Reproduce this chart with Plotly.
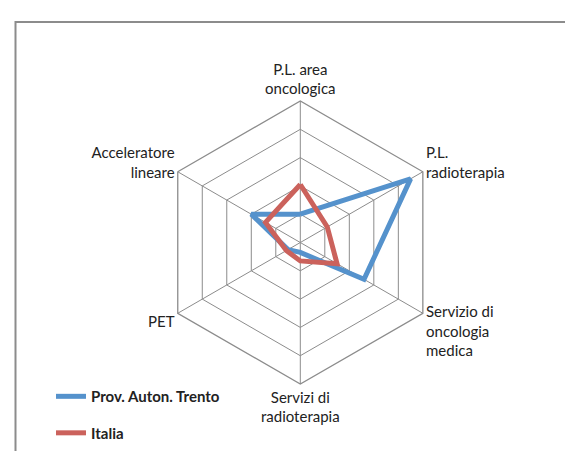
import plotly.graph_objects as go

# axis categories, clockwise from the top
categories = ["P.L. area<br>oncologica", "P.L.<br>radioterapia", "Servizio di<br>oncologia<br>medica",
              "Servizi di<br>radioterapia", "PET", "Acceleratore<br>lineare"]
trento = [1.0, 4.5, 2.6, 0.35, 0.5, 2.0]
italia = [2.05, 1.1, 1.5, 0.65, 0.57, 1.42]

grid_col = "#8c8c8c"
blue = "#5592CC"
red = "#CB625C"

def closed(vals):
    return vals + vals[:1]

fig = go.Figure()
fig.add_trace(go.Scatterpolar(r=closed(trento), theta=closed(categories), mode="lines",
                              name="Prov. Auton. Trento", legendgroup="a",
                              line=dict(color=blue, width=5)))
fig.add_trace(go.Scatterpolar(r=closed(italia), theta=closed(categories), mode="lines",
                              name="Italia", legendgroup="b",
                              line=dict(color=red, width=5)))

# polar box shifted to put the hexagon where the reference has it
dx = -5 / 573
dy = 9 / 451
fig.update_layout(
    width=573, height=451,
    margin=dict(l=0, r=0, t=0, b=0),
    paper_bgcolor="white",
    font=dict(family="Lato, Open Sans, sans-serif", size=13, color="#222"),
    polar=dict(
        domain=dict(x=[0.2719 + dx, 0.7658 + dx], y=[0.1463 + dy, 0.7738 + dy]),
        gridshape="linear",
        bgcolor="white",
        radialaxis=dict(range=[0, 5], dtick=1, showticklabels=False, ticks="",
                        showline=False, gridcolor=grid_col, gridwidth=1.3),
        angularaxis=dict(direction="clockwise", rotation=90, ticks="",
                         showline=True, linecolor=grid_col, linewidth=1.3,
                         gridcolor=grid_col, gridwidth=1.3,
                         tickfont=dict(size=15, color="#222")),
    ),
    legend=dict(x=0.075, y=0.175, xanchor="left", yanchor="top",
                font=dict(size=15, color="#222", family="Lato, Open Sans, sans-serif", weight="bold"),
                tracegroupgap=14, bgcolor="rgba(0,0,0,0)"),
    shapes=[dict(type="rect", xref="paper", yref="paper",
                 x0=7.5 / 573, x1=1.2, y0=-0.2, y1=1 - 14 / 451,
                 line=dict(color=grid_col, width=2))],
)

fig.write_html("out.html")
